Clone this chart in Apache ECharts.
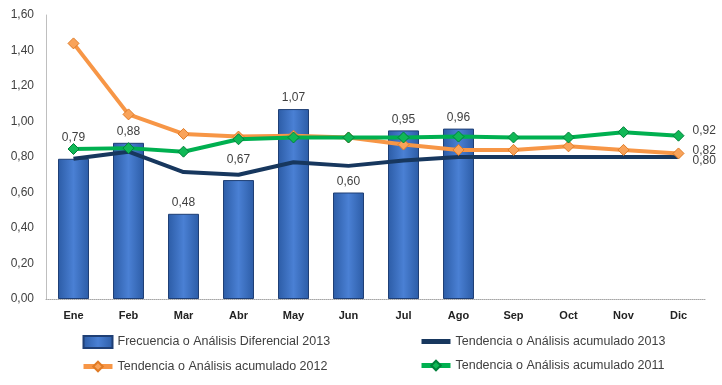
<!DOCTYPE html>
<html><head><meta charset="utf-8">
<script src="https://cdn.jsdelivr.net/npm/echarts@6/dist/echarts.min.js"></script>
<style>html,body{margin:0;padding:0;background:#fff}#c{width:722px;height:385px}</style>
</head><body><div id="c"></div>
<script>
var categories = ['Ene','Feb','Mar','Abr','May','Jun','Jul','Ago','Sep','Oct','Nov','Dic'];
var yTicks = [0,0.2,0.4,0.6,0.8,1.0,1.2,1.4,1.6];
var frecuencia2013 = [0.79,0.88,0.48,0.67,1.07,0.60,0.95,0.96,null,null,null,null];
var tendencia2013 = [0.79,0.83,0.715,0.70,0.77,0.75,0.78,0.80,0.80,0.80,0.80,0.80];
var tendencia2012 = [1.44,1.04,0.93,0.915,0.92,0.91,0.87,0.84,0.84,0.86,0.84,0.82];
var tendencia2011 = [0.845,0.85,0.83,0.90,0.91,0.91,0.91,0.915,0.91,0.91,0.94,0.92];
var names = ['Frecuencia o Análisis Diferencial 2013','Tendencia o Análisis acumulado 2013','Tendencia o Análisis acumulado 2012','Tendencia o Análisis acumulado 2011'];

function fmt(v){ return v.toFixed(2).replace('.', ','); }
var FONT = 'Liberation Sans';
var txt = '#404040';

// bars whose label Excel lifted higher to avoid the lines
var liftedLabels = { 0: 15, 3: 14 };
var barData = frecuencia2013.map(function(v, i){
  var item = { value: v };
  if (liftedLabels[i]) item.label = { distance: liftedLabels[i] };
  return item;
});

function endLabel(dy){
  return { show: true, distance: 14, offset: [0, dy], color: txt, fontFamily: FONT, fontSize: 12,
    formatter: function(p){ return fmt(p.value); } };
}

var legendCommon = { orient: 'vertical', top: 330, itemWidth: 29, itemHeight: 12, itemGap: 11,
  lineStyle: { width: 5 },
  textStyle: { color: txt, fontFamily: FONT, fontSize: 12.5 } };

var chart = echarts.init(document.getElementById('c'));
chart.setOption({
  animation: false,
  backgroundColor: '#fff',
  textStyle: { fontFamily: FONT },
  grid: { left: 46, right: 16, top: 15, bottom: 86 },
  xAxis: {
    type: 'category', data: categories,
    axisLine: { lineStyle: { color: '#a6a6a6', type: 'dotted', width: 1 } },
    axisTick: { show: false },
    axisLabel: { color: '#222', fontFamily: FONT, fontSize: 11, fontWeight: 'bold', margin: 11 }
  },
  yAxis: {
    type: 'value', min: 0, max: 1.6, interval: 0.2,
    axisLine: { show: true, lineStyle: { color: '#bfbfbf', width: 1 } },
    axisTick: { show: false },
    splitLine: { show: false },
    axisLabel: { color: txt, fontFamily: FONT, fontSize: 12, margin: 12,
      formatter: function(v){ return fmt(v); } }
  },
  legend: [
    Object.assign({}, legendCommon, { left: 76,
      data: [{ name: names[0], icon: 'rect' }, names[2]] }),
    Object.assign({}, legendCommon, { left: 414,
      data: [{ name: names[1], itemStyle: { opacity: 0 } }, names[3]] })
  ],
  series: [
    { name: names[0], type: 'bar', data: barData, barWidth: 31,
      itemStyle: {
        color: new echarts.graphic.LinearGradient(0,0,1,0,[
          {offset:0,color:'#2c5ca6'},{offset:0.5,color:'#4a80d4'},{offset:1,color:'#2c5ca6'}]),
        borderColor: '#1f3f75', borderWidth: 1
      },
      label: { show: true, position: 'top', distance: 5, color: txt, fontFamily: FONT, fontSize: 12,
        formatter: function(p){ return fmt(p.value); } },
      z: 1
    },
    { name: names[1], type: 'line', data: tendencia2013, symbol: 'none',
      lineStyle: { color: '#17375e', width: 4 }, itemStyle: { color: '#17375e' },
      endLabel: endLabel(4), labelLayout: { hideOverlap: false }, z: 3 },
    { name: names[2], type: 'line', data: tendencia2012, symbol: 'diamond', symbolSize: 11,
      lineStyle: { color: '#f79646', width: 4 },
      itemStyle: { color: '#f9a35a', borderColor: '#e07b25', borderWidth: 1 },
      endLabel: endLabel(-3), labelLayout: { hideOverlap: false }, z: 4 },
    { name: names[3], type: 'line', data: tendencia2011, symbol: 'diamond', symbolSize: 11,
      lineStyle: { color: '#00b050', width: 4 },
      itemStyle: { color: '#10b856', borderColor: '#00803a', borderWidth: 1 },
      endLabel: endLabel(-5), labelLayout: { hideOverlap: false }, z: 5 }
  ]
});
</script></body></html>
